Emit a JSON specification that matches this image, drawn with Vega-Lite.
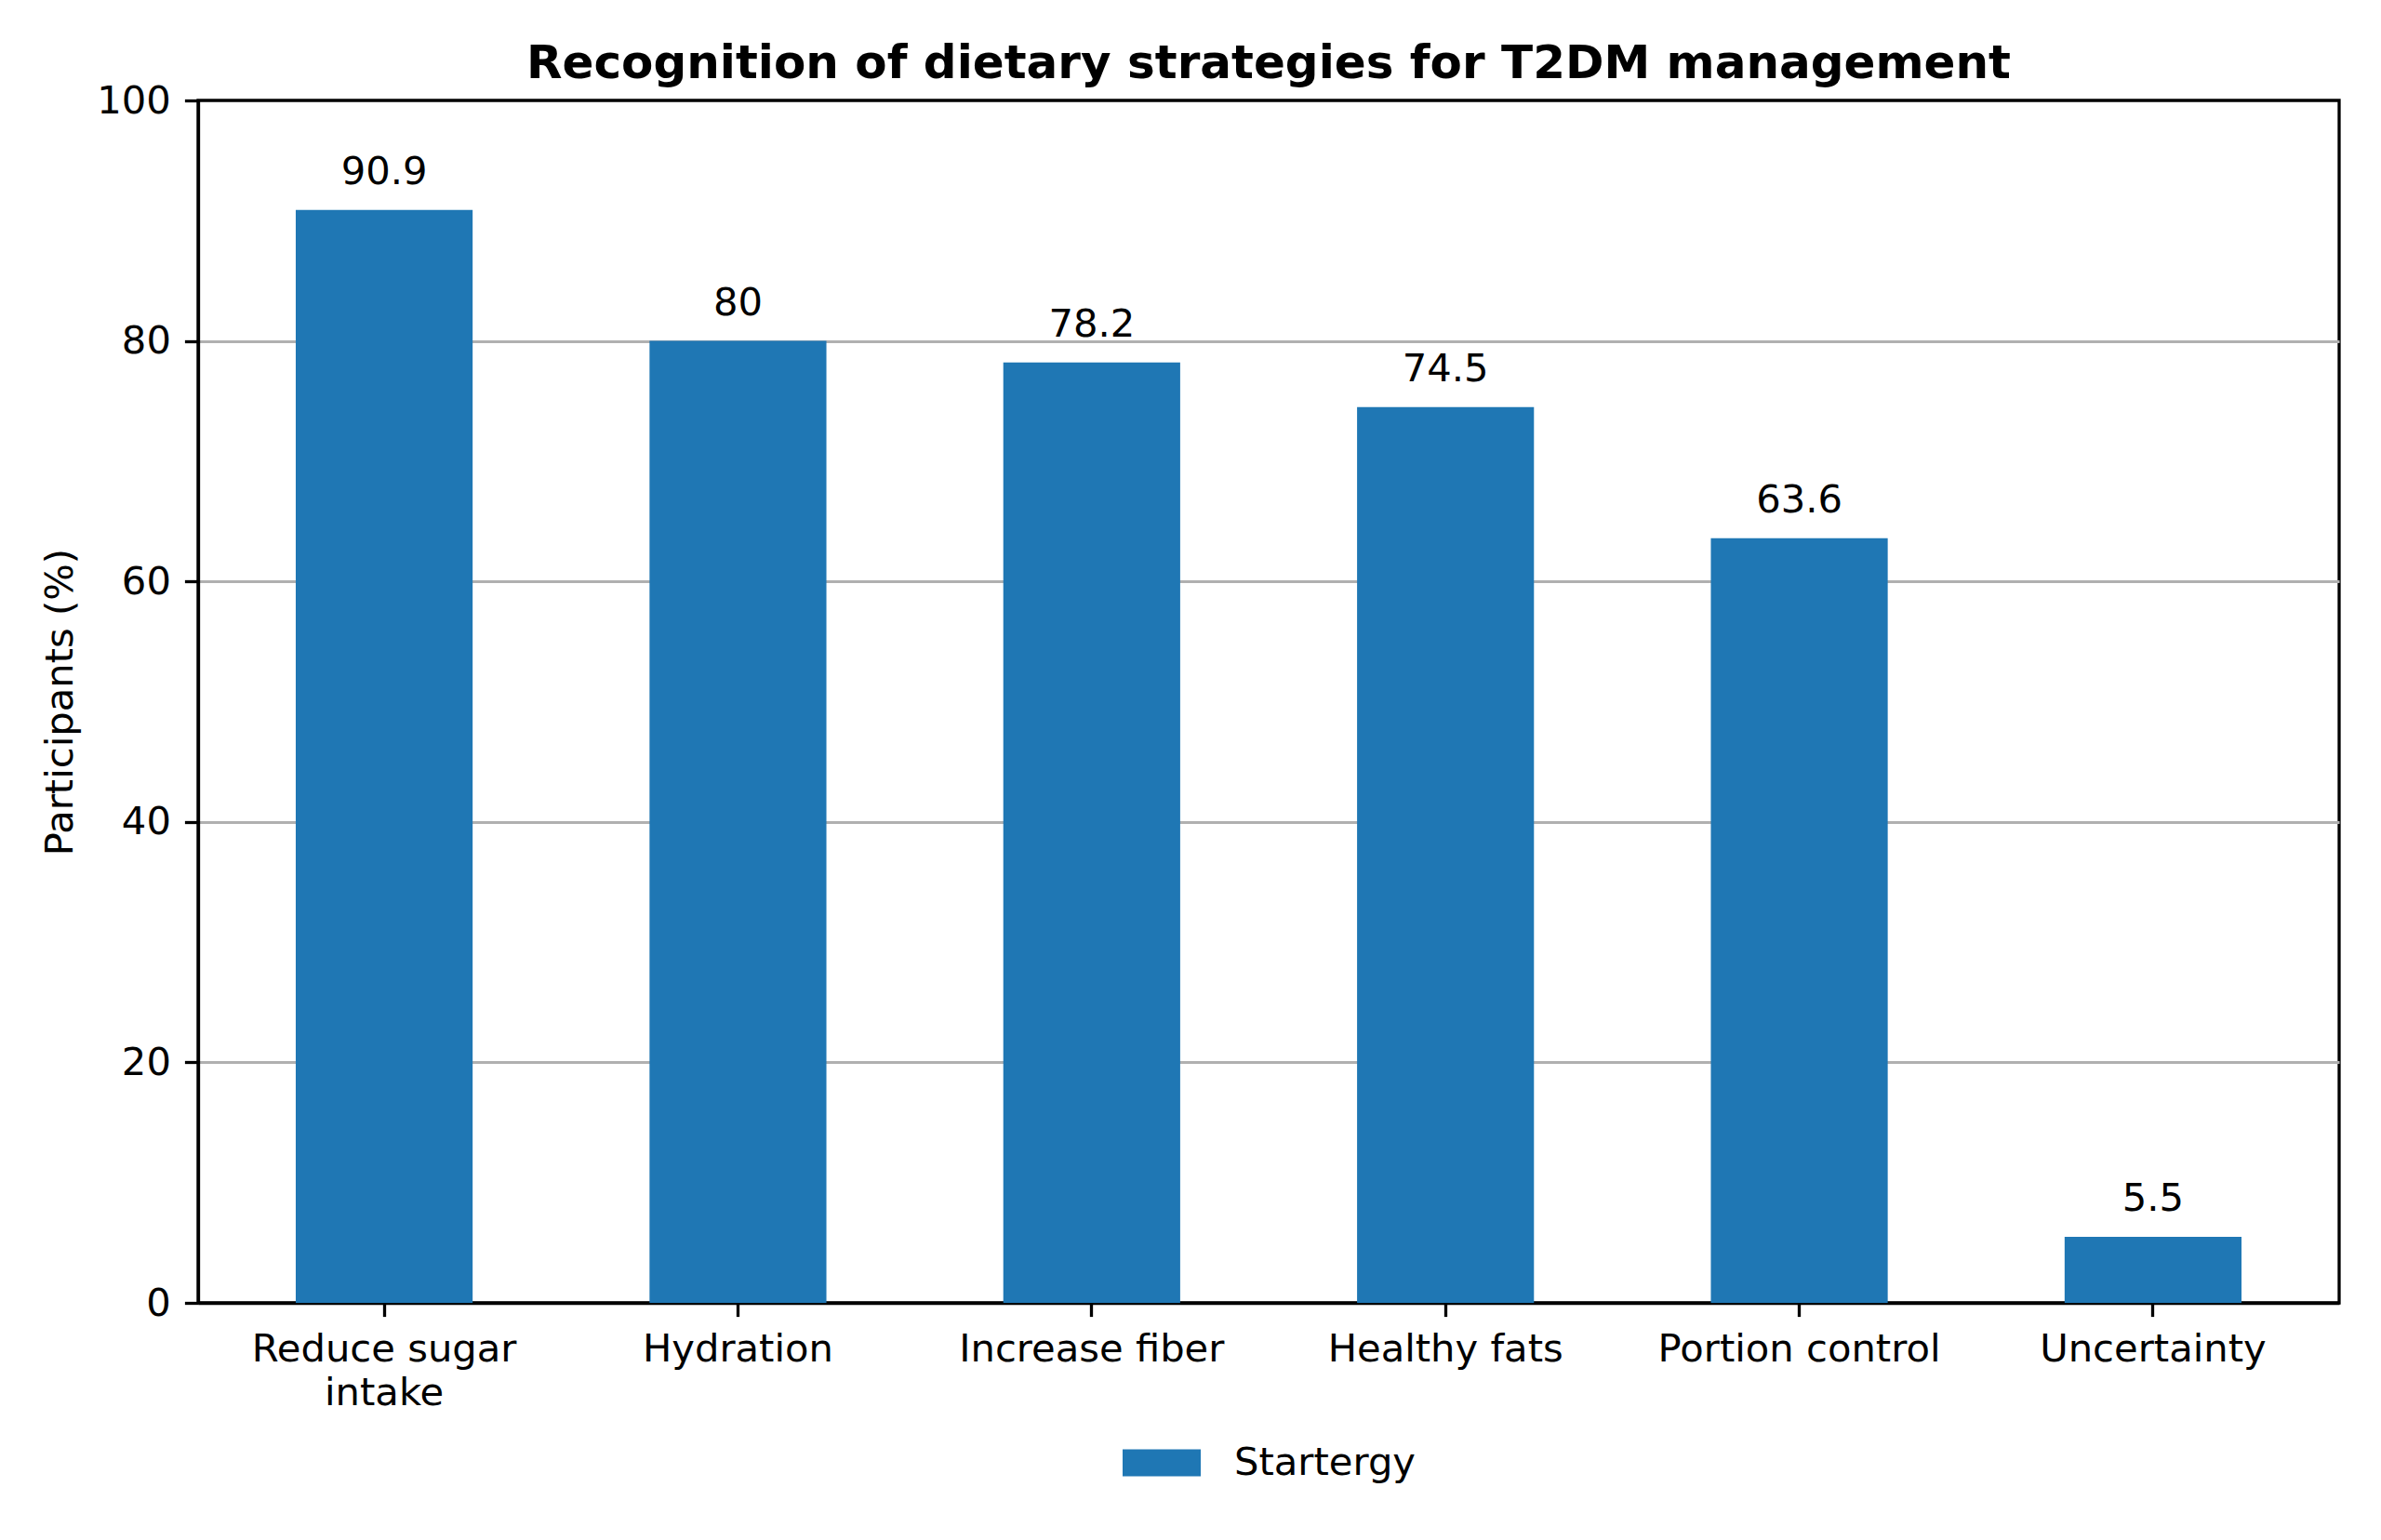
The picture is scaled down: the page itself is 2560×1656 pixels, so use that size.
{
  "$schema": "https://vega.github.io/schema/vega-lite/v6.json",
  "width": 2302,
  "height": 1293,
  "autosize": "none",
  "padding": {"left": 213, "top": 108, "right": 45, "bottom": 255},
  "background": "white",
  "data": {
    "values": [
      {"strategy": "Reduce sugar intake", "pct": 90.9, "series": "Startergy"},
      {"strategy": "Hydration", "pct": 80, "series": "Startergy"},
      {"strategy": "Increase fiber", "pct": 78.2, "series": "Startergy"},
      {"strategy": "Healthy fats", "pct": 74.5, "series": "Startergy"},
      {"strategy": "Portion control", "pct": 63.6, "series": "Startergy"},
      {"strategy": "Uncertainty", "pct": 5.5, "series": "Startergy"}
    ]
  },
  "title": {
    "text": "Recognition of dietary strategies for T2DM management",
    "font": "DejaVu Sans",
    "fontSize": 50,
    "fontWeight": "bold",
    "color": "black",
    "anchor": "middle",
    "offset": -6
  },
  "config": {
    "font": "DejaVu Sans",
    "view": {"stroke": "black", "strokeWidth": 3.3},
    "axis": {
      "labelFont": "DejaVu Sans",
      "labelFontSize": 41.7,
      "labelColor": "black",
      "labelLimit": 0,
      "titleFont": "DejaVu Sans",
      "titleFontSize": 41.7,
      "titleFontWeight": "normal",
      "titleColor": "black",
      "domainColor": "black",
      "domainWidth": 3.3,
      "tickColor": "black",
      "tickWidth": 3.3,
      "tickSize": 14.6,
      "labelPadding": 15
    }
  },
  "encoding": {
    "x": {
      "field": "strategy",
      "type": "nominal",
      "sort": null,
      "scale": {"paddingInner": 0.5, "paddingOuter": 0.276},
      "axis": {
        "title": null,
        "labelAngle": 0,
        "grid": false,
        "labelLineHeight": 47,
        "labelExpr": "datum.value == 'Reduce sugar intake' ? ['Reduce sugar', 'intake'] : datum.label"
      }
    },
    "y": {
      "field": "pct",
      "type": "quantitative",
      "scale": {"domain": [0, 100], "nice": false},
      "axis": {
        "title": "Participants (%)",
        "values": [0, 20, 40, 60, 80, 100],
        "grid": true,
        "gridColor": "#b0b0b0",
        "gridWidth": 3,
        "gridOpacity": {"condition": {"test": "datum.value == 100 || datum.value == 0", "value": 0}, "value": 1},
        "titlePadding": 17
      }
    }
  },
  "layer": [
    {
      "mark": {"type": "bar"},
      "encoding": {
        "color": {
          "field": "series",
          "type": "nominal",
          "scale": {"domain": ["Startergy"], "range": ["#1f77b4"]},
          "legend": {
            "title": null,
            "orient": "none",
            "legendX": 994,
            "legendY": 1423,
            "padding": 0,
            "direction": "horizontal",
            "symbolType": "M-1,-0.345H1V0.345H-1Z",
            "symbolSize": 7056,
            "symbolStrokeWidth": 0,
            "symbolOpacity": 1,
            "labelFontSize": 41.7,
            "labelFont": "DejaVu Sans",
            "labelColor": "black",
            "labelLimit": 0,
            "labelOffset": 36
          }
        }
      }
    },
    {
      "mark": {"type": "text", "baseline": "alphabetic", "dy": -28, "fontSize": 41.7, "font": "DejaVu Sans", "color": "black"},
      "encoding": {
        "text": {"field": "pct", "type": "quantitative", "format": ".1~f"}
      }
    }
  ]
}
